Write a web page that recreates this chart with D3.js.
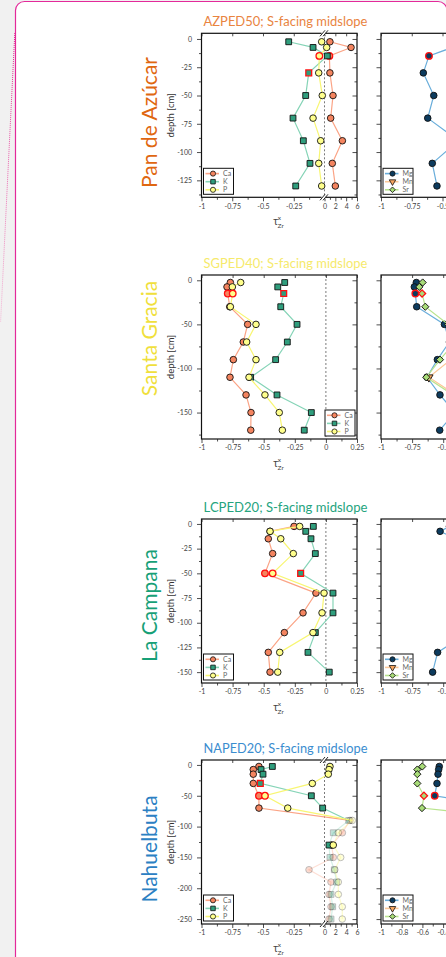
<!DOCTYPE html>
<html><head><meta charset="utf-8">
<script src="https://cdn.jsdelivr.net/npm/d3@7"></script>
<style>html,body{margin:0;padding:0;background:#f1f1f1;overflow:hidden}</style>
</head><body><svg id="c" width="446" height="957"></svg>
<script>
// ---------------- DATA ----------------
const siteNames = ["Pan de Azúcar", "Santa Gracia", "La Campana", "Nahuelbuta"];
const profileTitles = ["AZPED50; S-facing midslope", "SGPED40; S-facing midslope", "LCPED20; S-facing midslope", "NAPED20; S-facing midslope"];
const leftElements = ["Ca", "K", "P"];
const rightElements = ["Mg", "Mn", "Sr"];

const brokenTickValues = [-1, -0.75, -0.5, -0.25, 0, 2, 4, 6];
const brokenTickLabels = ["-1", "-0.75", "-0.5", "-0.25", "0", "2", "4", "6"];
const brokenMinorTicks = [-0.875, -0.625, -0.375, -0.125, 1, 3, 5];
const stdTickValues = [-1, -0.75, -0.5, -0.25, 0, 0.25];
const stdTickLabels = ["-1", "-0.75", "-0.5", "-0.25", "0", "0.25"];
const stdMinorTicks = [-0.875, -0.625, -0.375, -0.125, 0.125];
const naRightTickValues = [-1, -0.8, -0.6, -0.4, -0.2, 0, 0.2, 0.4];
const naRightTickLabels = ["-1", "-0.8", "-0.6", "-0.4", "-0.2", "0", "0.2", "0.4"];
const naRightMinorTicks = [-0.9, -0.7, -0.5, -0.3, -0.1, 0.1, 0.3];

const depthTicksAZ = [0, -25, -50, -75, -100, -125];
const depthMinorAZ = [-12.5, -37.5, -62.5, -87.5, -112.5, -137.5];
const depthTicksSG = [0, -50, -100, -150];
const depthMinorSG = [-25, -75, -125, -175];
const depthTicksLC = [0, -25, -50, -75, -100, -125, -150];
const depthMinorLC = [-12.5, -37.5, -62.5, -87.5, -112.5, -137.5];
const depthTicksNA = [0, -50, -100, -150, -200, -250];
const depthMinorNA = [-25, -75, -125, -175, -225];

// Pan de Azúcar (AZPED50)
const depthAZ = [-2.5, -7.5, -15, -30, -50, -70, -90, -110, -130];
const caAZ = [1.0, 4.9, 0.9, 1.0, 1.57, 1.14, 3.3, 1.44, 2.0];
const kAZ = [-0.291, -0.093, 0.52, -0.128, -0.153, -0.256, -0.172, -0.118, -0.234];
const pAZ = [-0.023, 0.4, -0.042, -0.047, -0.018, -0.093, -0.031, -0.047, -0.023];
const mgAZ = [-0.35, -0.42, -0.61, -0.656, -0.571, -0.62, -0.37, -0.583, -0.545];
const mnAZ = [-0.2, -0.25, -0.3, -0.3, -0.25, -0.3, -0.2, -0.25, -0.2];
const srAZ = [-0.25, -0.3, -0.35, -0.35, -0.3, -0.35, -0.25, -0.3, -0.3];
const redAZ = [["Ca", -15], ["P", -15], ["K", -30], ["Mg", -15]];

// Santa Gracia (SGPED40)
const depthSG = [-2.5, -7.5, -15, -30, -50, -70, -90, -110, -130, -150, -170];
const caSG = [-0.768, -0.795, -0.789, -0.773, -0.629, -0.664, -0.744, -0.771, -0.642, -0.602, -0.604];
const kSG = [-0.331, -0.387, -0.339, -0.363, -0.232, -0.310, -0.404, -0.605, -0.393, -0.117, -0.174];
const pSG = [-0.685, -0.752, -0.749, -0.768, -0.562, -0.637, -0.562, -0.618, -0.490, -0.375, -0.350];
const mgSG = [-0.716, -0.732, -0.724, -0.713, -0.49, -0.45, -0.547, -0.630, -0.526, -0.405, -0.528];
const mnSG = [-0.3, -0.3, -0.3, -0.3, -0.3, -0.35, -0.44, -0.615, -0.4, -0.35, -0.35];
const srSG = [-0.665, -0.692, -0.670, -0.644, -0.46, -0.405, -0.526, -0.636, -0.42, -0.365, -0.365];
const redSG = [["Ca", -15], ["P", -15], ["K", -15], ["Mg", -15], ["Sr", -15]];

// La Campana (LCPED20)
const depthLC = [-2.5, -7.5, -15, -30, -50, -70, -90, -110, -130, -150];
const caLC = [-0.256, -0.449, -0.463, -0.428, -0.490, -0.080, -0.184, -0.334, -0.463, -0.449];
const kLC = [-0.101, -0.162, -0.120, -0.085, -0.203, 0.057, 0.057, -0.085, -0.144, 0.027];
const pLC = [-0.211, -0.449, -0.363, -0.262, -0.428, -0.015, -0.031, -0.104, -0.371, -0.387];
const mgLC = [-0.45, -0.525, -0.4, -0.35, -0.3, -0.2, -0.25, -0.3, -0.545, -0.585];
const mnLC = [-0.3, -0.3, -0.3, -0.3, -0.3, -0.3, -0.3, -0.3, -0.3, -0.3];
const srLC = [-0.35, -0.35, -0.35, -0.35, -0.35, -0.35, -0.35, -0.35, -0.35, -0.35];
const redLC = [["Ca", -50], ["P", -50], ["K", -50]];

// Nahuelbuta (NAPED20)
const depthNA = [-2.5, -7.5, -15, -30, -50, -70, -90, -110, -130, -150, -170, -190, -210, -230, -250];
const caNA = [-0.533, -0.579, -0.579, -0.579, -0.533, -0.533, 4.7, 3.3, 1.33, 1.62, -0.126, 1.2, 0.83, 1.2, 0.83];
const kNA = [-0.424, -0.516, -0.5, -0.522, -0.107, -0.015, 4.47, 1.62, 0.83, 1.01, 1.81, 2.25, 1.2, 1.51, 1.2];
const pNA = [1.01, 0.83, 0.70, -0.099, -0.484, -0.299, 5.13, 2.55, 1.62, 2.99, 1.9, 2.55, 2.55, 3.28, 3.28];
const mgNA = [-0.437, -0.443, -0.449, -0.459, -0.481, 0.2, 0.3, 0.2, 0.2, 0.2, 0.2, 0.2, 0.2, 0.2, 0.2];
const mnNA = [0.1, 0.1, 0.1, 0.1, 0.1, 0.1, 0.2, 0.1, 0.1, 0.1, 0.1, 0.1, 0.1, 0.1, 0.1];
const srNA = [-0.601, -0.649, -0.649, -0.649, -0.585, -0.604, 0.5, 0.3, 0.2, 0.3, 0.2, 0.3, 0.2, 0.3, 0.2];
const redNA = [["Ca", -50], ["P", -50], ["K", -30], ["Mg", -50], ["Sr", -50]];
const fadedDepthsNA = [-90, -110, -150, -170, -190, -210, -230, -250];
const solidLineToNA = -90;

// ---------------- STYLE / LAYOUT ----------------
const FONT = "Lato, 'Liberation Sans', Arial, sans-serif";
const PH = 164;
const nameColors = ["#df6711", "#f0df3c", "#17a077", "#2b80c3"];
const titleColors = ["#e9843f", "#f6ea6c", "#25a47e", "#3a8dcf"];
const labelCenters = [122.5, 338.5, 605.5, 849];
const styles = {
  Ca: {fill: "#f4845f", line: "#fba486", sym: "circle"},
  K:  {fill: "#2f9e7d", line: "#86d4b7", sym: "square"},
  P:  {fill: "#ffff8c", line: "#f8f673", sym: "circle"},
  Mg: {fill: "#0c3b5e", line: "#6aaedb", sym: "circle"},
  Mn: {fill: "#f8a660", line: "#fcc898", sym: "tri"},
  Sr: {fill: "#a8dc78", line: "#b9e48e", sym: "diamond"}
};

const rows = [
  {id: "AZ", top: 33.3, yDomain: [5, -140], yMajor: depthTicksAZ, yMinor: depthMinorAZ,
   xL: d3.scaleLinear().domain([-1, 0, 6]).range([201.5, 324.5, 357]), xLT: [brokenTickValues, brokenTickLabels, brokenMinorTicks], brokenL: true,
   xR: d3.scaleLinear().domain([-1, 0]).range([381, 504]), xRT: [[-1, -0.75, -0.5, -0.25, 0], ["-1", "-0.75", "-0.5", "-0.25", "0"], [-0.875, -0.625, -0.375, -0.125]],
   depths: depthAZ, data: {Ca: caAZ, K: kAZ, P: pAZ, Mg: mgAZ, Mn: mnAZ, Sr: srAZ}, red: redAZ, fade: [], solidTo: null, legL: "left", legR: "left"},
  {id: "SG", top: 275, yDomain: [6, -180], yMajor: depthTicksSG, yMinor: depthMinorSG,
   xL: d3.scaleLinear().domain([-1, 0.25]).range([201.5, 357]), xLT: [stdTickValues, stdTickLabels, stdMinorTicks], brokenL: false,
   xR: d3.scaleLinear().domain([-1, 0.25]).range([381, 536.5]), xRT: [stdTickValues, stdTickLabels, stdMinorTicks],
   depths: depthSG, data: {Ca: caSG, K: kSG, P: pSG, Mg: mgSG, Mn: mnSG, Sr: srSG}, red: redSG, fade: [], solidTo: null, legL: "right", legR: "right"},
  {id: "LC", top: 519, yDomain: [5, -161], yMajor: depthTicksLC, yMinor: depthMinorLC,
   xL: d3.scaleLinear().domain([-1, 0.25]).range([201.5, 357]), xLT: [stdTickValues, stdTickLabels, stdMinorTicks], brokenL: false,
   xR: d3.scaleLinear().domain([-1, 0.25]).range([381, 536.5]), xRT: [stdTickValues, stdTickLabels, stdMinorTicks],
   depths: depthLC, data: {Ca: caLC, K: kLC, P: pLC, Mg: mgLC, Mn: mnLC, Sr: srLC}, red: redLC, fade: [], solidTo: null, legL: "left", legR: "left"},
  {id: "NA", top: 760, yDomain: [8, -258], yMajor: depthTicksNA, yMinor: depthMinorNA,
   xL: d3.scaleLinear().domain([-1, 0, 6]).range([201.5, 324.5, 357]), xLT: [brokenTickValues, brokenTickLabels, brokenMinorTicks], brokenL: true,
   xR: d3.scaleLinear().domain([-1, 0.5]).range([381, 536.25]), xRT: [naRightTickValues, naRightTickLabels, naRightMinorTicks],
   depths: depthNA, data: {Ca: caNA, K: kNA, P: pNA, Mg: mgNA, Mn: mnNA, Sr: srNA}, red: redNA, fade: fadedDepthsNA, solidTo: solidLineToNA, legL: "left", legR: "left"}
];

// ---------------- DRAW ----------------
const svg = d3.select("#c");
svg.append("rect").attr("width", 446).attr("height", 957).attr("fill", "#f1f1f1");
const defs = svg.append("defs");
const grad = defs.append("linearGradient").attr("id", "dg").attr("gradientUnits", "userSpaceOnUse")
  .attr("x1", 15).attr("y1", 33).attr("x2", 0).attr("y2", 322);
grad.append("stop").attr("offset", 0).attr("stop-color", "#e0208a");
grad.append("stop").attr("offset", 1).attr("stop-color", "#f4b8d6");
svg.append("line").attr("x1", 14.8).attr("y1", 33).attr("x2", 0.6).attr("y2", 322)
  .attr("stroke", "url(#dg)").attr("stroke-width", 1).attr("stroke-dasharray", "1,1");
svg.append("rect").attr("x", 15.5).attr("y", 1.5).attr("width", 431.5).attr("height", 1100).attr("rx", 9)
  .attr("fill", "#fff").attr("stroke", "#e3299a").attr("stroke-width", 1.2);

function symPath(kind, s) {
  if (kind === "circle") return d3.symbol(d3.symbolCircle, 34 * s * s)();
  if (kind === "square") return d3.symbol(d3.symbolSquare, 34 * s * s)();
  if (kind === "diamond") return d3.symbol(d3.symbolSquare, 26 * s * s)();
  return d3.symbol(d3.symbolTriangle, 30 * s * s)();
}
const symRot = k => k === "diamond" ? 45 : (k === "tri" ? 180 : 0);

function styleAxis(g, labels) {
  g.select(".domain").remove();
  g.selectAll("line").attr("stroke", "#222").attr("stroke-width", 0.8);
  g.selectAll("text").attr("font-family", FONT).attr("font-size", 7).attr("fill", "#444");
  if (!labels) g.selectAll("text").remove();
}

function legend(g, names, x0, x1, yb, where) {
  const lw = 30, lh = 26;
  const lx = where === "right" ? x1 - 2 - lw : x0 + 2;
  const ly = yb - 3 - lh;
  g.append("rect").attr("x", lx).attr("y", ly).attr("width", lw).attr("height", lh)
    .attr("fill", "#fff").attr("stroke", "#111").attr("stroke-width", 1);
  names.forEach((n, i) => {
    const s = styles[n];
    const yy = ly + 5.3 + i * 8.1;
    g.append("line").attr("x1", lx + 2).attr("x2", lx + 15.5).attr("y1", yy).attr("y2", yy)
      .attr("stroke", s.line).attr("stroke-width", 1.6);
    g.append("path").attr("d", symPath(s.sym, 0.78))
      .attr("transform", `translate(${lx + 9.5},${yy}) rotate(${symRot(s.sym)})`)
      .attr("fill", s.fill).attr("stroke", "#111").attr("stroke-width", 0.8);
    g.append("text").attr("x", lx + 19.5).attr("y", yy).attr("dy", "0.35em").text(n)
      .attr("font-family", FONT).attr("font-size", 7).attr("fill", "#666");
  });
}

function panel(row, side) {
  const x = side === "L" ? row.xL : row.xR;
  const ticks = side === "L" ? row.xLT : row.xRT;
  const rg = x.range();
  const x0 = rg[0], x1 = rg[rg.length - 1];
  const top = row.top, bot = row.top + PH;
  const y = d3.scaleLinear().domain(row.yDomain).range([top, bot]);
  const g = svg.append("g");
  const clipId = "clip" + row.id + side;
  defs.append("clipPath").attr("id", clipId).append("rect")
    .attr("x", x0).attr("y", top).attr("width", x1 - x0).attr("height", PH);
  const plot = g.append("g").attr("clip-path", `url(#${clipId})`);
  plot.append("line").attr("x1", x(0)).attr("x2", x(0)).attr("y1", top).attr("y2", bot)
    .attr("stroke", "#7a7a7a").attr("stroke-width", 1).attr("stroke-dasharray", "2,2");

  const names = side === "L" ? leftElements : rightElements;
  const line = d3.line().x(p => x(p.v)).y(p => y(p.d));
  names.forEach(n => {
    const s = styles[n];
    const pts = row.depths.map((d, i) => ({d, v: row.data[n][i]}));
    if (row.solidTo === null) {
      plot.append("path").attr("d", line(pts)).attr("fill", "none").attr("stroke", s.line).attr("stroke-width", 1.2);
    } else {
      plot.append("path").attr("d", line(pts.filter(p => p.d >= row.solidTo))).attr("fill", "none")
        .attr("stroke", s.line).attr("stroke-width", 1.2);
      plot.append("path").attr("d", line(pts.filter(p => p.d <= row.solidTo))).attr("fill", "none")
        .attr("stroke", s.line).attr("stroke-width", 1.2).attr("opacity", 0.35);
    }
    pts.forEach(p => {
      const red = row.red.some(([k, d]) => k === n && d === p.d);
      const faded = row.fade.includes(p.d);
      plot.append("path").attr("d", symPath(s.sym, 1))
        .attr("transform", `translate(${x(p.v)},${y(p.d)}) rotate(${symRot(s.sym)})`)
        .attr("fill", s.fill).attr("stroke", red ? "#ff1010" : "#111").attr("stroke-width", red ? 1.3 : 0.9)
        .attr("opacity", faded ? 0.3 : 1);
    });
  });

  // frame
  g.append("rect").attr("x", x0).attr("y", top).attr("width", x1 - x0).attr("height", PH)
    .attr("fill", "none").attr("stroke", "#111").attr("stroke-width", 1.2);

  // axes
  const yl = side === "L" ? row.yMajor.map(String) : null;
  g.append("g").attr("transform", `translate(${x0},0)`)
    .call(d3.axisLeft(y).tickValues(row.yMajor).tickSizeInner(4.5).tickSizeOuter(0).tickPadding(5).tickFormat((d, i) => yl ? yl[i] : ""))
    .call(a => styleAxis(a, !!yl));
  g.append("g").attr("transform", `translate(${x0},0)`)
    .call(d3.axisLeft(y).tickValues(row.yMinor).tickSizeInner(2.5).tickSizeOuter(0).tickFormat(""))
    .call(a => styleAxis(a, false));
  g.append("g").attr("transform", `translate(${x1},0)`)
    .call(d3.axisRight(y).tickValues(row.yMajor).tickSizeInner(-4.5).tickSizeOuter(0).tickFormat(""))
    .call(a => styleAxis(a, false));
  g.append("g").attr("transform", `translate(${x1},0)`)
    .call(d3.axisRight(y).tickValues(row.yMinor).tickSizeInner(-2.5).tickSizeOuter(0).tickFormat(""))
    .call(a => styleAxis(a, false));
  g.append("g").attr("transform", `translate(0,${bot})`)
    .call(d3.axisBottom(x).tickValues(ticks[0]).tickSizeInner(4).tickSizeOuter(0).tickPadding(2.5).tickFormat((d, i) => ticks[1][i]))
    .call(a => styleAxis(a, true));
  g.append("g").attr("transform", `translate(0,${bot})`)
    .call(d3.axisBottom(x).tickValues(ticks[2]).tickSizeInner(2.5).tickSizeOuter(0).tickFormat(""))
    .call(a => styleAxis(a, false));
  g.append("g").attr("transform", `translate(0,${top})`)
    .call(d3.axisTop(x).tickValues(ticks[0]).tickSizeInner(-3).tickSizeOuter(0).tickFormat(""))
    .call(a => styleAxis(a, false));

  if (side === "L" && row.brokenL) {
    const bx = x(0);
    [top, bot].forEach(yy => {
      g.append("rect").attr("x", bx - 3).attr("y", yy - 1.5).attr("width", 4).attr("height", 3).attr("fill", "#fff");
      [-2, 1].forEach(o => {
        g.append("line").attr("x1", bx + o - 2.5).attr("y1", yy + 3).attr("x2", bx + o + 2.5).attr("y2", yy - 3)
          .attr("stroke", "#111").attr("stroke-width", 0.9);
      });
    });
  }

  legend(g, names, x0, x1, bot, side === "L" ? row.legL : row.legR);

  if (side === "L") {
    // depth label
    g.append("text").attr("transform", `translate(173.5,${(top + bot) / 2}) rotate(-90)`)
      .attr("text-anchor", "middle").text("depth [cm]")
      .attr("font-family", FONT).attr("font-size", 9.5).attr("fill", "#333");
    // tau label
    const tx = g.append("g").attr("font-family", FONT).attr("fill", "#444");
    tx.append("text").attr("x", 273.2).attr("y", bot + 27.7).text("τ").attr("font-size", 10.5);
    tx.append("text").attr("x", 277.8).attr("y", bot + 22.6).text("x").attr("font-size", 6.5);
    tx.append("text").attr("x", 277.6).attr("y", bot + 30.8).text("Zr").attr("font-size", 6.5);
  }
}

rows.forEach((row, i) => {
  panel(row, "L");
  panel(row, "R");
  const t = svg.append("text").attr("x", 285.5).attr("y", row.top - 7).attr("text-anchor", "middle")
    .text(profileTitles[i]).attr("font-family", FONT).attr("font-size", 13).attr("fill", titleColors[i]);
  const w = t.node().getComputedTextLength();
  t.attr("font-size", 13 * 164 / w);
});

// row labels: fit size to the first label width
const probe = svg.append("text").text(siteNames[0]).attr("font-family", FONT).attr("font-size", 22);
const labelSize = 22 * 131 / probe.node().getComputedTextLength();
probe.remove();
siteNames.forEach((nm, i) => {
  svg.append("text").attr("transform", `translate(157,${labelCenters[i]}) rotate(-90)`)
    .attr("text-anchor", "middle").text(nm)
    .attr("font-family", FONT).attr("font-size", labelSize).attr("fill", nameColors[i]);
});
</script></body></html>
